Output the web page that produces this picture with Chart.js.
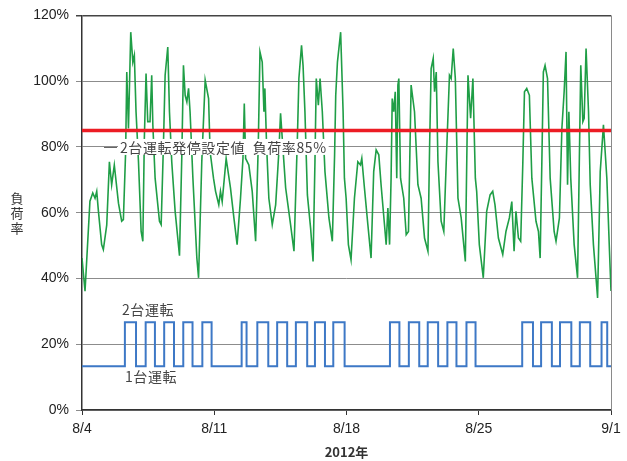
<!DOCTYPE html>
<html>
<head>
<meta charset="utf-8">
<script src="https://cdn.jsdelivr.net/npm/chart.js@4.4.1/dist/chart.umd.min.js"></script>
<style>
  body { margin: 0; background: #fff; }
  #wrap { width: 627px; height: 461px; position: relative; }
</style>
</head>
<body>
<div id="wrap"><canvas id="loadChart"></canvas></div>
<script>
// 日付ラベル (8/4 起点の日数)
const dayTicks = [0, 7, 14, 21, 28];
const dayLabels = ['8/4', '8/11', '8/18', '8/25', '9/1'];

// 負荷率 (緑線) : 経過日数 / 値(%)
const loadDays = [
  0, 0.16, 0.42, 0.57, 0.69, 0.78, 0.87, 1.04, 1.13, 1.31, 1.45, 1.57, 1.71, 1.93, 2.10, 2.19,
  2.31, 2.37, 2.46, 2.58, 2.69, 2.77, 2.86, 2.99, 3.13, 3.22, 3.30, 3.39, 3.48, 3.60, 3.69, 3.75,
  3.87, 4.10, 4.19, 4.31, 4.40, 4.54, 4.63, 4.75, 4.93, 5.16, 5.28, 5.37, 5.46, 5.55, 5.64, 5.72,
  5.87, 6.08, 6.17, 6.34, 6.52, 6.70, 6.78, 6.96,
  7.07, 7.24, 7.33, 7.42, 7.63, 7.86, 8.04, 8.21, 8.39, 8.52, 8.59, 8.66, 8.83, 9.01, 9.19, 9.33,
  9.42, 9.54, 9.63, 9.68, 9.77, 9.89, 10.07, 10.25, 10.42, 10.51, 10.60, 10.78, 11.04, 11.22, 11.40, 11.48,
  11.62, 11.70, 11.80, 11.93, 12.10, 12.23, 12.33, 12.40, 12.51, 12.60, 12.72, 12.86, 13.07, 13.25, 13.37, 13.43,
  13.52, 13.69, 13.82,
  13.89, 13.98, 14.10, 14.24, 14.42, 14.60, 14.74, 14.81, 14.95, 15.13, 15.30, 15.44, 15.57, 15.71, 15.83, 16.01,
  16.10, 16.19, 16.28, 16.36, 16.42, 16.50, 16.58, 16.66, 16.72, 16.77, 16.86, 17.03, 17.16, 17.28, 17.42, 17.60,
  17.78, 17.95, 18.13, 18.31, 18.40, 18.48, 18.59, 18.66, 18.75, 18.84, 19.01, 19.15, 19.28, 19.45, 19.54, 19.65,
  19.76, 19.90, 20.07, 20.29, 20.43, 20.57, 20.69, 20.82,
  20.89, 21.03, 21.24, 21.42, 21.60, 21.74, 21.86, 22.04, 22.27, 22.44, 22.62, 22.75, 22.87, 22.97, 23.10, 23.22,
  23.33, 23.42, 23.54, 23.68, 23.81, 24.03, 24.16, 24.25, 24.34, 24.42, 24.51, 24.64, 24.78, 24.99, 25.09, 25.27,
  25.40, 25.52, 25.62, 25.70, 25.77, 25.87, 26.05, 26.23, 26.40, 26.51, 26.58, 26.68, 26.81, 26.90, 27.07, 27.29,
  27.43, 27.60, 27.69, 27.78, 27.92, 28.0
];
const loadRate = [
  46.2, 36.1, 63.5, 66.0, 64.4, 66.5, 60.4, 50.3, 48.8, 56.3, 75.5, 68.5, 74.5, 62.9, 57.4, 57.9,
  78.6, 102.8, 85.6, 114.9, 105.8, 107.9, 90.7, 75.5, 54.3, 51.3, 82.6, 102.3, 87.7, 87.7, 101.8, 86.7,
  70.5, 57.4, 56.4, 80.6, 101.8, 110.4, 90.7, 75.5, 60.4, 46.9, 76.5, 104.8, 95.7, 93.7, 97.8, 90.7,
  70.5, 46.2, 40.2, 75.5, 100.3, 94.7, 78.6, 70.5,
  66.5, 62.4, 66.5, 63.4, 76.5, 67.5, 58.4, 50.3, 64.4, 76.5, 93.2, 76.5, 74.5, 66.5, 51.3, 80.6,
  108.9, 105.8, 90.7, 97.8, 80.6, 64.4, 56.4, 62.4, 78.6, 90.2, 82.6, 67.5, 56.4, 48.3, 82.6, 100.8,
  110.9, 104.8, 90.7, 65.4, 55.3, 45.2, 75.5, 100.8, 92.7, 100.8, 90.7, 72.5, 58.4, 51.3, 77.6, 95.7,
  105.8, 114.9, 90.7,
  70.5, 64.4, 50.3, 45.7, 64.4, 75.5, 74.5, 76.5, 67.5, 56.4, 46.2, 72.5, 79.1, 77.6, 68.5, 56.4,
  50.3, 61.4, 50.3, 70.5, 94.7, 90.7, 96.8, 70.5, 98.8, 100.8, 70.5, 64.4, 53.3, 54.3, 98.8, 90.7,
  68.5, 64.4, 52.3, 48.3, 80.6, 103.8, 106.9, 96.8, 102.8, 75.5, 57.4, 54.3, 75.5, 101.8, 100.8, 109.9,
  100.8, 64.4, 58.4, 45.2, 101.8, 88.7, 100.8, 70.5,
  66.5, 50.3, 40.2, 60.4, 65.4, 66.5, 62.4, 52.3, 47.3, 54.3, 58.4, 63.4, 48.3, 60.4, 52.3, 51.3,
  74.5, 96.8, 97.8, 95.7, 70.5, 57.4, 54.3, 46.2, 75.5, 102.8, 104.8, 100.8, 70.5, 54.3, 51.3, 58.4,
  85.6, 96.8, 108.9, 68.5, 90.7, 70.5, 50.3, 40.2, 104.8, 87.7, 88.7, 109.9, 90.7, 68.5, 50.3, 34.1,
  72.5, 86.7, 78.6, 70.5, 48.3, 36.2
];

// 運転台数 (青線) : 切替時刻 / 値(%)
const unitDays = [
  0, 2.27, 2.86, 3.37, 3.86, 4.35, 4.87, 5.36, 5.85, 6.37, 6.86,
  8.45, 8.71, 9.28, 9.86, 10.33, 10.86, 11.32, 11.92, 12.33, 12.86, 13.3, 13.9,
  16.3, 16.8, 17.3, 17.85, 18.3, 18.85, 19.34, 19.82, 20.35, 20.83,
  23.3, 23.87, 24.3, 24.87, 25.3, 25.9, 26.35, 26.9, 27.5, 27.8, 28
];
const unitLevel = [
  13.3, 26.7, 13.3, 26.7, 13.3, 26.7, 13.3, 26.7, 13.3, 26.7, 13.3,
  26.7, 13.3, 26.7, 13.3, 26.7, 13.3, 26.7, 13.3, 26.7, 13.3, 26.7, 13.3,
  26.7, 13.3, 26.7, 13.3, 26.7, 13.3, 26.7, 13.3, 26.7, 13.3,
  26.7, 13.3, 26.7, 13.3, 26.7, 13.3, 26.7, 13.3, 26.7, 13.3, 13.3
];

// 設定値 85%
const setDays = [0, 28];
const setRate = [85, 85];

const jpFont = '"Noto Sans CJK JP", "Noto Sans", sans-serif';
const tickFont = '"Liberation Sans", Arial, sans-serif';

// 文字・枠の描画
const labelPlugin = {
    id: 'labels',
    afterDatasetsDraw(chart) {
        const ctx = chart.ctx;
        const area = chart.chartArea;
        ctx.save();
        // 右枠
        ctx.strokeStyle = '#8a8a8a';
        ctx.lineWidth = 1;
        ctx.beginPath();
        ctx.moveTo(area.right + 0.5, area.top);
        ctx.lineTo(area.right + 0.5, area.bottom);
        ctx.stroke();

        const y80 = chart.scales.y.getPixelForValue(80);
        ctx.strokeStyle = '#666';
        ctx.beginPath();
        ctx.moveTo(104, Math.round(y80) + 0.5);
        ctx.lineTo(117, Math.round(y80) + 0.5);
        ctx.stroke();

        ctx.font = '14px ' + jpFont;
        ctx.letterSpacing = '0.6px';
        ctx.textBaseline = 'middle';
        ctx.textAlign = 'left';
        const txt = '2台運転発停設定値  負荷率85%';
        const w = ctx.measureText(txt).width;
        ctx.fillStyle = '#fff';
        ctx.fillRect(118, y80 - 8, w + 4, 16);
        ctx.fillStyle = '#444';
        ctx.fillText(txt, 120, y80 + 1);

        ctx.fillText('2台運転', 122, 310);
        ctx.fillText('1台運転', 125, 377);
        ctx.letterSpacing = '0px';

        // 縦軸タイトル
        ctx.textAlign = 'center';
        ctx.fillStyle = '#333';
        ctx.font = '13px ' + jpFont;
        ['負', '荷', '率'].forEach((c, i) => ctx.fillText(c, 17, 198 + i * 15));

        // 横軸タイトル
        ctx.font = 'bold 13px ' + jpFont;
        ctx.fillStyle = '#333';
        ctx.fillText('2012年', (area.left + area.right) / 2, 452);
        ctx.restore();
    }
};

const toPoints = (xs, ys) => xs.map((x, i) => ({ x: x, y: ys[i] }));

const chart = new Chart(document.getElementById('loadChart').getContext('2d'), {
    type: 'line',
    data: {
        datasets: [{
            label: '設定値',
            data: toPoints(setDays, setRate),
            borderColor: '#ec1c24',
            borderWidth: 3.5,
            pointRadius: 0,
            order: 0
        }, {
            label: '負荷率',
            data: toPoints(loadDays, loadRate),
            borderColor: '#1f9e46',
            borderWidth: 1.6,
            pointRadius: 0,
            tension: 0,
            order: 1
        }, {
            label: '運転台数',
            data: toPoints(unitDays, unitLevel),
            borderColor: '#3d78c6',
            borderWidth: 2,
            pointRadius: 0,
            stepped: true,
            order: 2
        }]
    },
    options: {
        responsive: true,
        maintainAspectRatio: false,
        animation: false,
        layout: { padding: { top: 13, right: 16, left: 0, bottom: 0 } },
        plugins: {
            legend: { display: false },
            tooltip: { enabled: false }
        },
        scales: {
            x: {
                type: 'linear',
                min: 0,
                max: 28,
                afterBuildTicks: (scale) => { scale.ticks = dayTicks.map(v => ({ value: v })); },
                afterFit: (scale) => { scale.height = 51; },
                ticks: {
                    autoSkip: false,
                    maxRotation: 0,
                    padding: 6,
                    color: '#222',
                    font: { family: tickFont, size: 14 },
                    callback: (v) => dayLabels[dayTicks.indexOf(v)]
                },
                grid: { drawOnChartArea: false, drawTicks: true, tickLength: 5, color: '#333' },
                border: { color: '#333', width: 1.5 }
            },
            y: {
                min: 0,
                max: 120,
                afterFit: (scale) => { scale.width = 82; },
                ticks: {
                    stepSize: 20,
                    padding: 7,
                    color: '#222',
                    font: { family: tickFont, size: 14 },
                    callback: (v) => v + '%'
                },
                grid: {
                    tickLength: 6,
                    color: (c) => c.tick && c.tick.value === 120 ? '#444' : '#8c8c8c',
                    lineWidth: (c) => c.tick && c.tick.value === 120 ? 1.5 : 1
                },
                border: { color: '#333', width: 1.5 }
            }
        }
    },
    plugins: [labelPlugin]
});
</script>
</body>
</html>
